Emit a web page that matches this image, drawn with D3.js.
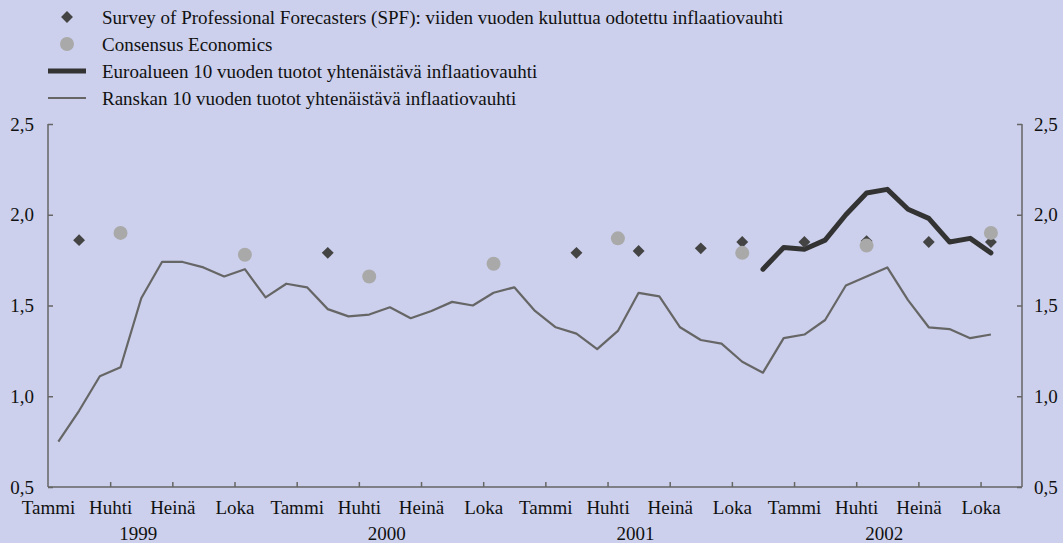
<!DOCTYPE html>
<html>
<head>
<meta charset="utf-8">
<script src="https://cdn.jsdelivr.net/npm/d3@7"></script>
<style>
  html, body { margin: 0; padding: 0; background: #ccd0ec; }
  svg { display: block; }
</style>
</head>
<body>
<main></main>
<script>
// monthly series, first value is January 1999
const franceStart = '1999-01';
const franceValues = [
  0.75, 0.92, 1.11, 1.16, 1.54, 1.74, 1.74, 1.71, 1.66, 1.70, 1.545, 1.62,
  1.60, 1.48, 1.44, 1.45, 1.49, 1.43, 1.47, 1.52, 1.50, 1.57, 1.60, 1.47,
  1.38, 1.345, 1.26, 1.36, 1.57, 1.55, 1.38, 1.31, 1.29, 1.19, 1.13, 1.32,
  1.34, 1.42, 1.61, 1.66, 1.71, 1.53, 1.38, 1.37, 1.32, 1.34,
];

// first value is November 2001
const euroStart = '2001-11';
const euroValues = [1.70, 1.82, 1.81, 1.86, 2.00, 2.12, 2.14, 2.03, 1.98, 1.85, 1.87, 1.79];

const spfMonths = [
  '1999-02', '2000-02', '2001-02', '2001-05', '2001-08',
  '2001-10', '2002-01', '2002-04', '2002-07', '2002-10',
];
const spfValues = [1.86, 1.79, 1.79, 1.80, 1.815, 1.85, 1.85, 1.855, 1.85, 1.85];

const consensusMonths = [
  '1999-04', '1999-10', '2000-04', '2000-10',
  '2001-04', '2001-10', '2002-04', '2002-10',
];
const consensusValues = [1.90, 1.78, 1.66, 1.73, 1.87, 1.79, 1.83, 1.90];

const quarterLabels = ['Tammi', 'Huhti', 'Heinä', 'Loka'];
const years = [1999, 2000, 2001, 2002];
const yTicks = [0.5, 1.0, 1.5, 2.0, 2.5];

const legendLabels = [
  'Survey of Professional Forecasters (SPF): viiden vuoden kuluttua odotettu inflaatiovauhti',
  'Consensus Economics',
  'Euroalueen 10 vuoden tuotot yhtenäistävä inflaatiovauhti',
  'Ranskan 10 vuoden tuotot yhtenäistävä inflaatiovauhti',
];

// month index counted from January 1999
const monthIndex = s => {
  const [y, m] = s.split('-').map(Number);
  return (y - 1999) * 12 + (m - 1);
};

const series = (start, values) =>
  values.map((v, i) => ({ m: monthIndex(start) + i + 0.5, v }));

const france = series(franceStart, franceValues);
const euro = series(euroStart, euroValues);
const spf = spfMonths.map((s, i) => ({ m: monthIndex(s) + 0.5, v: spfValues[i] }));
const consensus = consensusMonths.map((s, i) => ({ m: monthIndex(s) + 0.5, v: consensusValues[i] }));

const dims = {
  width: 1063,
  height: 543,
  left: 48,
  right: 1022,
  top: 124,
  bottom: 487,
};

const axisColor = '#666';
const textColor = '#111';
const fontSize = '19px';
const fontFamily = '"Liberation Serif", serif';

const xScale = d3.scaleLinear().domain([0, 47]).range([dims.left, dims.right]);
const yScale = d3.scaleLinear().domain([0.5, 2.5]).range([dims.bottom, dims.top]);

const svg = d3
  .select('main')
  .append('svg')
  .attr('width', dims.width)
  .attr('height', dims.height);

svg.append('rect').attr('width', dims.width).attr('height', dims.height).attr('fill', '#ccd0ec');

// axes
const quarterTicks = d3.range(0, 48, 3);
const commaFormat = d => d3.format('.1f')(d).replace('.', ',');

const xAxis = d3
  .axisBottom(xScale)
  .tickValues(quarterTicks)
  .tickSize(-5)
  .tickPadding(14)
  .tickFormat(d => quarterLabels[(d / 3) % 4]);

const xAxisGroup = svg
  .append('g')
  .attr('transform', `translate(0 ${dims.bottom})`)
  .call(xAxis);

xAxisGroup.select('.domain').attr('d', `M${dims.left},0H${dims.right}`);

const yLeft = svg
  .append('g')
  .attr('transform', `translate(${dims.left} 0)`)
  .call(d3.axisLeft(yScale).tickValues(yTicks).tickSize(-5).tickPadding(14).tickFormat(commaFormat));

const yRight = svg
  .append('g')
  .attr('transform', `translate(${dims.right} 0)`)
  .call(d3.axisRight(yScale).tickValues(yTicks).tickSize(-5).tickPadding(12).tickFormat(commaFormat));

[yLeft, yRight].forEach(g => g.select('.domain').attr('d', `M0,${dims.top}V${dims.bottom}`));

svg.selectAll('.domain, .tick line')
  .attr('stroke', axisColor)
  .attr('stroke-width', 1.5);

// hide the tick at the axis corner
xAxisGroup.selectAll('.tick line').filter(d => d === 0).remove();

svg
  .append('g')
  .selectAll('text')
  .data(years)
  .join('text')
  .attr('x', d => xScale((d - 1999) * 12 + 4.35))
  .attr('y', 540)
  .attr('text-anchor', 'middle')
  .text(d => d);

// lines
const line = d3
  .line()
  .x(d => xScale(d.m))
  .y(d => yScale(d.v));

svg
  .append('path')
  .attr('d', line(france))
  .attr('fill', 'none')
  .attr('stroke', '#666')
  .attr('stroke-width', 2.2)
  .attr('stroke-linejoin', 'round');

svg
  .append('path')
  .attr('d', line(euro))
  .attr('fill', 'none')
  .attr('stroke', '#333')
  .attr('stroke-width', 5)
  .attr('stroke-linejoin', 'round')
  .attr('stroke-linecap', 'round');

const diamond = d3.symbol().type(d3.symbolDiamond2).size(90);

svg
  .append('g')
  .selectAll('path')
  .data(spf)
  .join('path')
  .attr('transform', d => `translate(${xScale(d.m)} ${yScale(d.v)})`)
  .attr('d', diamond)
  .attr('fill', '#444');

svg
  .append('g')
  .selectAll('circle')
  .data(consensus)
  .join('circle')
  .attr('cx', d => xScale(d.m))
  .attr('cy', d => yScale(d.v))
  .attr('r', 7)
  .attr('fill', '#a9a9a9');

// legend
const legend = svg
  .append('g')
  .selectAll('g')
  .data(legendLabels)
  .join('g')
  .attr('transform', (d, i) => `translate(0 ${24 + i * 27})`);

legend
  .append('text')
  .attr('x', 102)
  .text(d => d);

legend
  .filter((d, i) => i === 0)
  .append('path')
  .attr('transform', 'translate(67 -7)')
  .attr('d', diamond)
  .attr('fill', '#444');

legend
  .filter((d, i) => i === 1)
  .append('circle')
  .attr('cx', 67)
  .attr('cy', -7)
  .attr('r', 7)
  .attr('fill', '#a9a9a9');

legend
  .filter((d, i) => i >= 2)
  .append('path')
  .attr('d', 'M48,-7H86')
  .attr('stroke', (d, i) => (i === 0 ? '#333' : '#666'))
  .attr('stroke-width', (d, i) => (i === 0 ? 5 : 2.2));

// all text in serif
svg.selectAll('text')
  .style('font-family', fontFamily)
  .style('font-size', fontSize)
  .attr('fill', textColor);
</script>
</body>
</html>
